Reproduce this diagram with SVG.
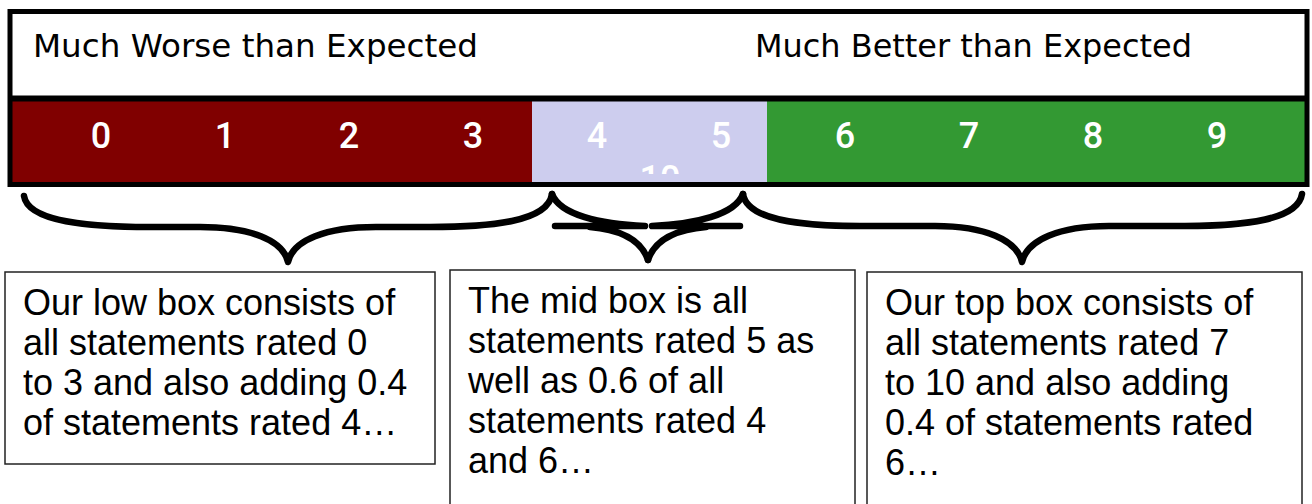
<svg xmlns="http://www.w3.org/2000/svg" width="1312" height="504" viewBox="0 0 1312 504">
<style>
.hdr{font-family:"DejaVu Sans","Liberation Sans",sans-serif;font-size:32px;fill:#000}
.dig{font-family:Roboto,"Liberation Sans",sans-serif;font-size:36px;font-weight:500;fill:#fff;text-anchor:middle}
.body{font-family:"Liberation Sans",Arial,sans-serif;font-size:36px;fill:#000}
.box{fill:#fff;stroke:#222;stroke-width:1.5}
.brace{fill:none;stroke:#000;stroke-width:6.5;stroke-linecap:round;stroke-linejoin:round}
</style>
<defs>
<clipPath id="midclip"><rect x="532" y="101" width="235" height="73"/></clipPath>
</defs>
<rect width="1312" height="504" fill="#fff"/>
<g id="scale">
<rect x="12" y="100" width="520" height="83" fill="#800000"/>
<rect x="532" y="100" width="235" height="83" fill="#cdcdee"/>
<rect x="767" y="100" width="539" height="83" fill="#339933"/>
<rect x="10" y="11.5" width="1297" height="173" fill="none" stroke="#000" stroke-width="5"/>
<line x1="10" y1="98.5" x2="1307" y2="98.5" stroke="#000" stroke-width="6"/>
<text class="hdr" x="33" y="57" textLength="445" lengthAdjust="spacingAndGlyphs">Much Worse than Expected</text>
<text class="hdr" x="755" y="57" textLength="437" lengthAdjust="spacingAndGlyphs">Much Better than Expected</text>
<text class="dig" x="101" y="148">0</text>
<text class="dig" x="225" y="148">1</text>
<text class="dig" x="349" y="148">2</text>
<text class="dig" x="473" y="148">3</text>
<text class="dig" x="597" y="148">4</text>
<text class="dig" x="721" y="148">5</text>
<text class="dig" x="845" y="148">6</text>
<text class="dig" x="969" y="148">7</text>
<text class="dig" x="1093" y="148">8</text>
<text class="dig" x="1217" y="148">9</text>
<text class="dig" x="660" y="191" clip-path="url(#midclip)">10</text>
</g>
<g id="connectors">
<path class="brace" d="M24,196 C28,222 90,227 150,227 L200,227 C250,227 283,240 288,262 C293,240 326,227 376,227 L430,227 C490,227 548,222 552,194"/>
<path class="brace" d="M552,194 C560,215 600,224 645,226 M555,226 L645,226 M590,227 C625,230 642,242 648,260"/>
<path class="brace" d="M743,194 C735,215 695,224 652,226 M652,226 L740,226 M706,227 C671,230 654,242 648,260"/>
<path class="brace" d="M743,194 C747,220 800,226 860,226 L935,226 C985,226 1017,240 1022,262 C1027,240 1059,226 1109,226 L1185,226 C1245,226 1298,220 1302,194"/>
</g>
<g id="low">
<rect class="box" x="5" y="272" width="430" height="192"/>
<text class="body" x="23" y="315">Our low box consists of</text>
<text class="body" x="23" y="355">all statements rated 0</text>
<text class="body" x="23" y="395">to 3 and also adding 0.4</text>
<text class="body" x="23" y="435">of statements rated 4…</text>
</g>
<g id="mid">
<rect class="box" x="450" y="270" width="405" height="250"/>
<text class="body" x="468" y="313">The mid box is all</text>
<text class="body" x="468" y="353">statements rated 5 as</text>
<text class="body" x="468" y="393">well as 0.6 of all</text>
<text class="body" x="468" y="433">statements rated 4</text>
<text class="body" x="468" y="473">and 6…</text>
</g>
<g id="top">
<rect class="box" x="867" y="272" width="435" height="250"/>
<text class="body" x="885" y="315">Our top box consists of</text>
<text class="body" x="885" y="355">all statements rated 7</text>
<text class="body" x="885" y="395">to 10 and also adding</text>
<text class="body" x="885" y="435">0.4 of statements rated</text>
<text class="body" x="885" y="475">6…</text>
</g>
</svg>
